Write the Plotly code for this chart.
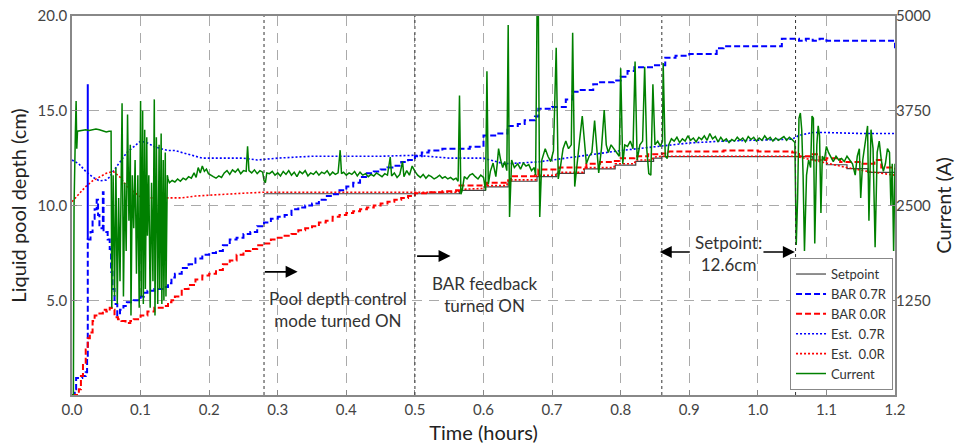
import plotly.graph_objects as go

# ---------------- data ----------------
x_ticks = [0.0, 0.1, 0.2, 0.3, 0.4, 0.5, 0.6, 0.7, 0.8, 0.9, 1.0, 1.1, 1.2]
x_tick_labels = ["0.0", "0.1", "0.2", "0.3", "0.4", "0.5", "0.6", "0.7", "0.8", "0.9", "1.0", "1.1", "1.2"]
y_ticks = [5, 10, 15, 20]
y_tick_labels = ["5.0", "10.0", "15.0", "20.0"]
y2_ticks = [1250, 2500, 3750, 5000]
y2_tick_labels = ["1250", "2500", "3750", "5000"]

setpoint_t = [0.28, 0.5, 0.563, 0.565, 0.6, 0.603, 0.634, 0.636, 0.676, 0.678, 0.705, 0.707, 0.745, 0.747,
              0.79, 0.792, 0.82, 0.822, 0.845, 0.848, 0.86, 1.055, 1.08, 1.1, 1.13, 1.16, 1.2]
setpoint_v = [10.62, 10.62, 10.62, 10.8, 10.8, 10.98, 10.98, 11.28, 11.28, 11.52, 11.52, 11.7, 11.7, 11.93,
              11.93, 12.13, 12.13, 12.33, 12.33, 12.5, 12.58, 12.58, 12.4, 12.15, 11.95, 11.75, 11.55]

bar07_t = [0.0, 0.004, 0.006, 0.015, 0.02, 0.022, 0.023, 0.027, 0.030, 0.033, 0.036, 0.038, 0.040, 0.043,
           0.045, 0.046, 0.050, 0.052, 0.055, 0.057, 0.059, 0.062, 0.066, 0.070, 0.075, 0.080, 0.085, 0.090,
           0.095, 0.100, 0.105, 0.110, 0.120, 0.130, 0.135, 0.140, 0.145, 0.150, 0.160, 0.170, 0.180, 0.190,
           0.200, 0.210, 0.220, 0.230, 0.240, 0.250, 0.260, 0.270, 0.280, 0.290, 0.300, 0.310, 0.320, 0.330,
           0.340, 0.350, 0.360, 0.370, 0.380, 0.390, 0.400, 0.410, 0.420, 0.430, 0.440, 0.450, 0.460, 0.470,
           0.480, 0.490, 0.500, 0.510, 0.520, 0.540, 0.560, 0.580, 0.600, 0.620, 0.635, 0.650, 0.660, 0.675,
           0.680, 0.700, 0.720, 0.730, 0.740, 0.760, 0.770, 0.790, 0.800, 0.810, 0.820, 0.830, 0.850, 0.860,
           0.865, 0.880, 0.900, 0.930, 0.940, 0.950, 1.000, 1.030, 1.035, 1.050, 1.060, 1.070, 1.080, 1.090,
           1.100, 1.150, 1.190, 1.200]
bar07_v = [0.0, 0.3, 0.9, 1.0, 1.2, 2.0, 8.2, 8.6, 9.3, 9.8, 10.3, 9.5, 8.9, 8.8,
           10.7, 8.7, 8.6, 8.2, 7.7, 6.5, 5.6, 4.8, 4.2, 4.5, 4.7, 4.9, 4.9, 5.0,
           5.0, 5.2, 5.4, 5.5, 5.6, 5.6, 5.7, 5.9, 6.2, 6.4, 6.7, 6.9, 7.2, 7.4,
           7.5, 7.6, 7.9, 8.2, 8.3, 8.5, 8.6, 8.9, 9.1, 9.3, 9.4, 9.5, 9.8, 9.9,
           10.0, 10.1, 10.3, 10.5, 10.6, 10.8, 11.0, 11.2, 11.5, 11.7, 11.8, 11.9, 12.0, 12.1,
           12.3, 12.4, 12.6, 12.8, 12.9, 13.0, 13.0, 13.1, 13.7, 13.8, 14.2, 14.3, 14.5, 14.7,
           15.1, 15.2, 15.6, 16.0, 16.1, 16.4, 16.5, 16.6, 16.8, 17.1, 17.3, 17.3, 17.4, 17.4,
           17.8, 17.9, 18.0, 18.0, 18.3, 18.4, 18.4, 18.4, 18.8, 18.8, 18.7, 18.8, 18.7, 18.8,
           18.7, 18.7, 18.7, 18.3]

bar07_spike_t = [0.023, 0.023]
bar07_spike_v = [8.2, 16.4]

bar00_t = [0.0, 0.008, 0.010, 0.013, 0.016, 0.020, 0.023, 0.026, 0.030, 0.033, 0.037, 0.040, 0.045, 0.050,
           0.055, 0.058, 0.062, 0.067, 0.072, 0.078, 0.085, 0.090, 0.100, 0.110, 0.120, 0.130, 0.135, 0.140,
           0.145, 0.150, 0.160, 0.170, 0.180, 0.190, 0.200, 0.210, 0.220, 0.230, 0.240, 0.250, 0.260, 0.270,
           0.280, 0.290, 0.300, 0.310, 0.320, 0.330, 0.340, 0.350, 0.360, 0.370, 0.380, 0.390, 0.400, 0.410,
           0.420, 0.430, 0.440, 0.450, 0.460, 0.470, 0.480, 0.490, 0.500, 0.520, 0.540, 0.560, 0.565, 0.600,
           0.605, 0.635, 0.640, 0.675, 0.680, 0.705, 0.710, 0.745, 0.750, 0.770, 0.790, 0.800, 0.820, 0.840,
           0.860, 0.870, 0.900, 0.950, 1.000, 1.050, 1.060, 1.080, 1.090, 1.100, 1.120, 1.150, 1.170, 1.180,
           1.200]
bar00_v = [0.0, 0.0, 0.3, 1.0, 1.7, 2.4, 3.0, 3.3, 3.9, 4.2, 4.2, 4.3, 4.5, 4.4,
           4.6, 4.5, 4.1, 4.0, 3.9, 3.8, 3.9, 4.0, 4.2, 4.4, 4.6, 4.6, 4.7, 4.9,
           5.0, 5.2, 5.6, 5.8, 6.1, 6.3, 6.4, 6.6, 6.9, 7.1, 7.4, 7.6, 7.7, 7.9,
           8.0, 8.2, 8.3, 8.4, 8.5, 8.7, 8.8, 8.9, 9.1, 9.2, 9.4, 9.5, 9.6, 9.7,
           9.8, 9.9, 10.0, 10.1, 10.2, 10.3, 10.4, 10.5, 10.65, 10.7, 10.75, 10.8, 11.05, 11.1,
           11.2, 11.3, 11.55, 11.6, 11.9, 11.9, 12.0, 12.0, 12.2, 12.3, 12.35, 12.5, 12.6, 12.7,
           12.75, 12.85, 12.85, 12.9, 12.85, 12.8, 12.6, 12.7, 12.4, 12.5, 12.3, 12.2, 12.4, 12.0,
           11.9]

est07_t = [0.0, 0.01, 0.02, 0.03, 0.04, 0.05, 0.055, 0.06, 0.07, 0.08, 0.09, 0.10, 0.11, 0.12, 0.13, 0.14,
           0.15, 0.16, 0.17, 0.18, 0.19, 0.20, 0.25, 0.27, 0.30, 0.35, 0.40, 0.45, 0.50, 0.55, 0.60, 0.63,
           0.68, 0.72, 0.76, 0.80, 0.85, 0.90, 0.95, 1.00, 1.05, 1.06, 1.08, 1.10, 1.15, 1.20]
est07_v = [12.4, 12.2, 11.8, 11.5, 11.3, 11.35, 11.5, 11.8, 12.3, 12.8, 13.1, 13.4, 13.3, 13.1, 13.0, 12.9,
           12.9, 12.8, 12.7, 12.6, 12.5, 12.5, 12.5, 12.4, 12.5, 12.6, 12.6, 12.6, 12.65, 12.5, 12.5, 12.2,
           12.3, 12.5, 12.7, 12.9, 13.1, 13.3, 13.4, 13.45, 13.5, 13.7, 13.85, 13.85, 13.8, 13.8]

est00_t = [0.0, 0.01, 0.02, 0.03, 0.04, 0.05, 0.06, 0.07, 0.08, 0.09, 0.10, 0.11, 0.12, 0.14, 0.16, 0.18,
           0.20, 0.22, 0.25, 0.28, 0.50, 0.563, 0.565, 0.60, 0.603, 0.634, 0.636, 0.676, 0.678, 0.705, 0.707,
           0.745, 0.747, 0.79, 0.792, 0.82, 0.822, 0.845, 0.848, 0.86, 1.055, 1.08, 1.10, 1.13, 1.16, 1.20]
est00_v = [10.2, 10.6, 11.0, 11.3, 11.5, 11.7, 11.8, 11.5, 11.0, 10.7, 10.45, 10.4, 10.4, 10.4, 10.4, 10.5,
           10.55, 10.6, 10.65, 10.7, 10.7, 10.7, 10.85, 10.9, 11.05, 11.05, 11.35, 11.35, 11.6, 11.6, 11.75,
           11.75, 12.0, 12.0, 12.2, 12.2, 12.4, 12.4, 12.55, 12.6, 12.6, 12.4, 12.2, 12.0, 11.8, 11.6]

current_t = [
    0.000, 0.002, 0.003, 0.004, 0.005, 0.006, 0.007, 0.008, 0.015, 0.020, 0.025, 0.030, 0.035, 0.040, 0.045,
    0.050, 0.054, 0.057, 0.058,
    0.060, 0.062, 0.064, 0.066, 0.068, 0.070, 0.072, 0.073, 0.075, 0.077, 0.079, 0.081, 0.083, 0.085, 0.086,
    0.088, 0.090, 0.092, 0.094, 0.096, 0.098, 0.100, 0.101, 0.103, 0.104, 0.106, 0.107, 0.109, 0.110, 0.112,
    0.114, 0.116, 0.118, 0.120, 0.121, 0.123, 0.125, 0.127, 0.128, 0.130, 0.131, 0.133, 0.134, 0.136, 0.137,
    0.139, 0.140,
    0.142, 0.146, 0.150, 0.154, 0.158, 0.162, 0.166, 0.170, 0.174, 0.178, 0.181, 0.184, 0.187, 0.190, 0.193,
    0.196, 0.199, 0.202, 0.206, 0.210, 0.214, 0.218, 0.222, 0.226, 0.230, 0.234, 0.238, 0.242, 0.246, 0.250,
    0.254, 0.256, 0.258, 0.262, 0.266, 0.270, 0.274, 0.278, 0.280, 0.282, 0.284, 0.288, 0.292, 0.296, 0.300,
    0.304, 0.308, 0.312, 0.316, 0.320, 0.324, 0.328, 0.332, 0.336, 0.340, 0.344, 0.348, 0.352, 0.356, 0.360,
    0.364, 0.368, 0.372, 0.376, 0.380, 0.384, 0.388, 0.391, 0.393, 0.396, 0.400, 0.404, 0.408, 0.412, 0.416,
    0.420, 0.424, 0.428, 0.432, 0.436, 0.440, 0.444, 0.448, 0.452, 0.456, 0.460, 0.464, 0.466, 0.470, 0.474,
    0.478, 0.482, 0.484, 0.488, 0.492, 0.496, 0.500,
    0.504, 0.508, 0.512, 0.516, 0.520, 0.524, 0.528, 0.532, 0.536, 0.540, 0.544, 0.548, 0.552, 0.556, 0.560,
    0.563, 0.565, 0.567, 0.569, 0.572, 0.576, 0.580, 0.584, 0.588, 0.592, 0.596, 0.600, 0.603, 0.605, 0.607,
    0.610, 0.614, 0.618, 0.620, 0.622, 0.625, 0.628, 0.631, 0.634, 0.636, 0.638, 0.641, 0.645, 0.650, 0.654,
    0.658, 0.662, 0.666, 0.670, 0.674, 0.676, 0.678, 0.680, 0.682, 0.685, 0.690, 0.694, 0.698, 0.702, 0.706,
    0.709, 0.712, 0.716, 0.720, 0.724, 0.728, 0.730, 0.733, 0.736, 0.740, 0.744, 0.747, 0.750, 0.754, 0.758,
    0.762, 0.765, 0.768, 0.772, 0.776, 0.779, 0.782, 0.786, 0.790, 0.794, 0.798, 0.800, 0.803, 0.806, 0.810,
    0.814, 0.818, 0.821, 0.824, 0.828, 0.832, 0.835, 0.838, 0.841, 0.844, 0.847, 0.850, 0.854, 0.858, 0.861,
    0.862, 0.865, 0.868, 0.870, 0.874, 0.878,
    0.882, 0.886, 0.890, 0.894, 0.898, 0.902, 0.906, 0.910, 0.914, 0.918, 0.922, 0.926, 0.930, 0.934, 0.938,
    0.942, 0.946, 0.950, 0.954, 0.958, 0.962, 0.966, 0.970, 0.974, 0.978, 0.982, 0.986, 0.990, 0.994, 0.998,
    1.002, 1.006, 1.010, 1.014, 1.018, 1.022, 1.026, 1.030, 1.034, 1.038, 1.042, 1.046, 1.050, 1.054,
    1.056, 1.058, 1.060, 1.062, 1.064, 1.066, 1.068, 1.071, 1.074, 1.077, 1.079, 1.081, 1.083, 1.086, 1.088,
    1.090, 1.092, 1.094, 1.097, 1.100, 1.103, 1.106, 1.110, 1.114, 1.118, 1.122, 1.126, 1.130, 1.134, 1.138,
    1.142, 1.145, 1.148, 1.150, 1.153, 1.156, 1.160, 1.162, 1.165, 1.168, 1.171, 1.174, 1.177, 1.180, 1.183,
    1.186, 1.189, 1.192, 1.194, 1.196, 1.198, 1.200]
current_a = [
    0, 0, 2500, 3280, 3500, 3880, 3250, 3480, 3490, 3500, 3490, 3500, 3510, 3500, 3480,
    3470, 3480, 3480, 1150,
    2900, 1300, 3000, 1200, 2600, 1500, 2800, 3850, 1300, 2800, 1900, 3700, 2300, 3300, 1050,
    2900, 2200, 3100, 1600, 2900, 1150, 3880, 1300, 3750, 1200, 3500, 1400, 3400, 2100, 2900,
    1150, 2800, 1500, 3900, 1050, 3400, 1200, 3300, 1400, 3450, 1200, 3100, 1250, 3200, 1300,
    2900, 2850,
    2800, 2830, 2810, 2850, 2820, 2860, 2840, 2880, 2860, 2930, 2870, 3000, 2930, 3020, 2950,
    2980, 2920, 2900, 2880, 2860, 2890, 2870, 2930, 2960, 2910, 2970, 2940, 2980, 2920, 2960,
    2950, 3280, 2960, 2930, 2970, 2920, 2960, 2940, 2830, 2800, 2930, 2920, 2950, 2900, 2930,
    2890, 2950, 2910, 2960, 2900, 2940, 2880, 2950, 2920, 2960, 2890, 2930, 2910, 2950, 2900,
    2940, 2920, 2960, 2900, 2940, 2910, 2930, 3230, 2920, 2940, 2900, 2930, 2910, 2950, 2890,
    2940, 2900, 2920, 2880, 2910, 2890, 2930, 2900, 2880, 2920, 2900, 3140, 2890, 2930, 2870,
    2910, 3080, 2880, 2960, 2900, 3020, 2950,
    2900, 2870, 2910, 2860, 2900, 2880, 2850, 2870, 2900, 2860, 2880, 2850, 2870, 2840, 2860,
    2820, 3950, 2650, 2700, 2880, 2850, 2900, 2920, 2880, 2850, 2900, 2870, 2700, 4270, 2780,
    2950, 3060, 2880, 3050, 3250, 3100, 3000, 3080, 2960, 4880, 2350, 3100, 3000, 3050, 2980,
    3060, 3020, 3040, 2960, 3000, 2900, 5000, 5000, 2350, 3100, 3250, 3150, 3080, 3220, 4580,
    2850, 3000, 3250, 3350, 3250, 3300, 4780, 2750, 3050, 3350, 3680, 3400, 3050, 3150, 3200,
    3620, 3200, 2930, 3250, 3760, 3300, 3200, 3300, 3250, 3200, 3150, 4310, 3050, 3300, 3280,
    3350, 3250, 4400, 3100, 3300, 3350, 4330, 3250, 2920, 2900, 4100, 3300, 3350, 3280, 3350,
    4380, 3150, 3120, 3300, 3380, 3350,
    3400, 3330, 3380, 3350, 3420, 3360, 3390, 3340, 3400, 3370, 3420, 3360, 3450, 3380, 3410,
    3340, 3400, 3350, 3380, 3330, 3370, 3350, 3400, 3360, 3390, 3340, 3410, 3370, 3400, 3350,
    3390, 3360, 3420, 3370, 3400, 3350, 3390, 3360, 3380, 3410, 3360, 3400, 3370, 3330,
    1980, 2600, 3650, 3720, 3500, 2900, 1900, 2900, 3100, 3000, 3680, 3650, 2000, 3300, 3550,
    3420, 2400, 3150, 3100, 3280, 3200, 3150, 3080, 3150, 3100, 3120, 3080, 3150, 3100, 3050,
    2900, 3150, 3250, 2600, 3100, 3300, 3550, 2300, 3500, 3250, 1950, 3200, 3350, 3100, 2950,
    3050, 3250, 3200, 2500, 3050, 1900, 3050]

event_lines_t = [0.28, 0.5, 0.86, 1.055]

# ---------------- figure ----------------
FONT = "Lato, 'Open Sans', sans-serif"
BLUE = "#0000ff"
RED = "#ff0000"
GREEN = "#008000"

fig = go.Figure()
fig.add_trace(go.Scatter(x=setpoint_t, y=setpoint_v, name="Setpoint", mode="lines", line_shape="hv",
                         line=dict(color="#444444", width=1.2)))
fig.add_trace(go.Scatter(x=bar07_t, y=bar07_v, name="BAR 0.7R", mode="lines", line_shape="hv",
                         line=dict(color=BLUE, width=2, dash="6px,3px")))
fig.add_trace(go.Scatter(x=bar00_t, y=bar00_v, name="BAR 0.0R", mode="lines", line_shape="hv",
                         line=dict(color=RED, width=2, dash="6px,3px")))
fig.add_trace(go.Scatter(x=est07_t, y=est07_v, name="Est.  0.7R", mode="lines",
                         line=dict(color=BLUE, width=1.6, dash="2px,2px")))
fig.add_trace(go.Scatter(x=est00_t, y=est00_v, name="Est.  0.0R", mode="lines",
                         line=dict(color=RED, width=1.6, dash="2px,2px")))
fig.add_trace(go.Scatter(x=bar07_spike_t, y=bar07_spike_v, mode="lines", showlegend=False,
                         line=dict(color=BLUE, width=2)))
fig.add_trace(go.Scatter(x=current_t, y=current_a, name="Current", mode="lines", yaxis="y2",
                         line=dict(color=GREEN, width=1.5)))

for t in event_lines_t:
    fig.add_shape(type="line", x0=t, x1=t, y0=0, y1=1, xref="x", yref="paper",
                  line=dict(color="#333333", width=1, dash="dot"), layer="above")

arrow_common = dict(xref="x", yref="y", axref="x", ayref="y", text="", showarrow=True,
                    arrowhead=2, arrowsize=1.5, arrowwidth=1.6, arrowcolor="black")
fig.add_annotation(x=0.329, y=6.5, ax=0.279, ay=6.5, **arrow_common)
fig.add_annotation(x=0.552, y=7.33, ax=0.501, ay=7.33, **arrow_common)
fig.add_annotation(x=0.857, y=7.55, ax=0.903, ay=7.55, **arrow_common)
fig.add_annotation(x=1.054, y=7.55, ax=1.006, ay=7.55, **arrow_common)

text_font = dict(family=FONT, size=17, color="#333333")
fig.add_annotation(x=0.388, y=4.5, xref="x", yref="y", text="Pool depth control<br>mode turned ON",
                   showarrow=False, font=text_font, align="center")
fig.add_annotation(x=0.602, y=5.3, xref="x", yref="y", text="BAR feedback<br>turned ON",
                   showarrow=False, font=text_font, align="center")
fig.add_annotation(x=0.957, y=7.45, xref="x", yref="y", text="Setpoint:<br>12.6cm",
                   showarrow=False, font=text_font, align="center")

axis_line = "#888888"
grid_col = "#aaaaaa"
fig.update_layout(
    width=955, height=444,
    margin=dict(l=72, r=60, t=16, b=49),
    paper_bgcolor="white", plot_bgcolor="white",
    font=dict(family=FONT, color="#333333"),
    xaxis=dict(range=[0, 1.2], tickvals=x_ticks, ticktext=x_tick_labels, automargin=False,
               showgrid=True, gridcolor=grid_col, griddash="10px,7px", gridwidth=1,
               zeroline=False, showline=True, linecolor=axis_line, linewidth=1.5, mirror=True,
               ticks="inside", ticklen=5, tickcolor=axis_line,
               tickfont=dict(size=15, color="#444444"),
               title=dict(text="Time (hours)", font=dict(size=20, color="#222222"), standoff=10)),
    yaxis=dict(range=[0, 20], tickvals=y_ticks, ticktext=y_tick_labels, automargin=False,
               showgrid=True, gridcolor=grid_col, griddash="10px,7px", gridwidth=1,
               zeroline=False, showline=True, linecolor=axis_line, linewidth=1.5, mirror=True,
               ticks="inside", ticklen=5, tickcolor=axis_line,
               tickfont=dict(size=15, color="#444444"),
               title=dict(text="Liquid pool depth (cm)", font=dict(size=20, color="#222222"), standoff=6)),
    yaxis2=dict(range=[0, 5000], tickvals=y2_ticks, ticktext=y2_tick_labels, overlaying="y", side="right",
                automargin=False,
                showgrid=False, zeroline=False, showline=False,
                ticks="inside", ticklen=5, tickcolor=axis_line,
                tickfont=dict(size=15, color="#444444"),
                title=dict(text="Current (A)", font=dict(size=20, color="#222222"), standoff=4)),
    legend=dict(x=0.9976, y=0.013, xanchor="right", yanchor="bottom",
                bgcolor="white", bordercolor="#888888", borderwidth=1,
                font=dict(family=FONT, size=13, color="#333333"),
                tracegroupgap=0, itemwidth=30),
    showlegend=True,
)

fig.write_html("out.html")
